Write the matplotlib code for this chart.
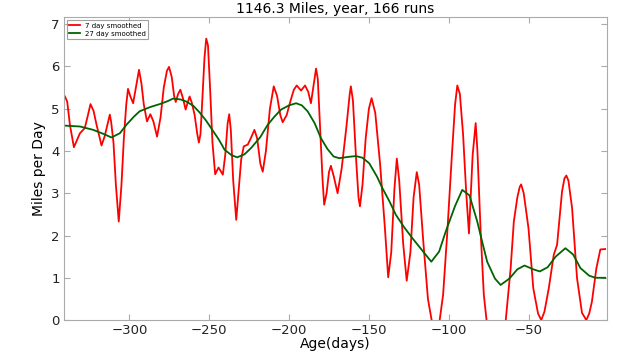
import matplotlib
matplotlib.use("Agg")
import matplotlib.pyplot as plt

title = "1146.3 Miles, year, 166 runs"
xlabel = "Age(days)"
ylabel = "Miles per Day"
label_7 = "7 day smoothed"
label_27 = "27 day smoothed"

days_7 = [-340.4, -339, -337.3, -334.8, -331, -328, -326, -324.4, -322.5, -320.6,
          -317.5, -315.5, -312.3, -311.5, -310, -308.5, -306.7, -305, -303.5, -302,
          -300.9, -299.5, -297.7, -296, -294, -292.5, -291, -289, -286.9, -285,
          -282.7, -280.5, -278.5, -276.5, -275.2, -273.5, -272, -271, -269.5, -268.1,
          -266.5, -264.8, -263.5, -262.3, -261, -259.2, -257.5, -256.5, -255.5, -254.5,
          -253, -251.9, -250.8, -249.5, -248, -246.3, -244.2, -241.5, -240, -238.5,
          -237.5, -236.5, -235, -233.1, -231.5, -230, -228.4, -225.9, -224, -221.7,
          -220, -218, -216.5, -214.5, -212, -209.6, -207.5, -205.5, -204, -201.5,
          -199, -197, -195.2, -192.5, -190, -188, -186.3, -184.5, -183.1, -182,
          -180.5, -179, -178, -176.5, -175, -173.8, -172, -169.6, -167, -164,
          -162, -161.3, -160, -158, -156.5, -155.6, -154, -152, -150, -148.3,
          -146, -143, -140, -137.9, -136, -134, -132.5, -131, -128.5, -126.3,
          -124, -122, -120, -118.5, -116, -113, -110, -108.5, -106, -103.5,
          -101, -98, -96, -94.6, -93, -91, -89, -87.3, -85, -83.1,
          -82, -80, -78, -76, -73, -70, -67, -64.5, -61.2, -59.2,
          -57, -55.5, -54.6, -53, -50, -47, -44, -42, -40, -37.3,
          -34.2, -32.1, -29, -27.5, -26.3, -25, -22.7, -19.6, -16.5, -13.8,
          -12, -10.3, -7.5, -5, -2]
miles_7 = [5.29, 5.17, 4.62, 4.09, 4.42, 4.54, 4.85, 5.11, 4.95, 4.62,
           4.13, 4.35, 4.86, 4.70, 4.20, 3.20, 2.33, 3.20, 4.30, 5.10,
           5.47, 5.30, 5.13, 5.50, 5.92, 5.60, 5.10, 4.70, 4.87, 4.70,
           4.34, 4.80, 5.50, 5.90, 5.99, 5.75, 5.30, 5.16, 5.35, 5.45,
           5.25, 4.98, 5.15, 5.29, 5.15, 4.86, 4.40, 4.20, 4.40, 5.10,
           6.20, 6.66, 6.50, 5.50, 4.20, 3.45, 3.61, 3.44, 3.90, 4.65,
           4.87, 4.50, 3.30, 2.37, 3.10, 3.80, 4.11, 4.15, 4.30, 4.50,
           4.30, 3.70, 3.51, 4.00, 5.00, 5.53, 5.30, 4.85, 4.68, 4.85,
           5.20, 5.45, 5.55, 5.43, 5.55, 5.40, 5.13, 5.60, 5.95, 5.70,
           4.50, 3.30, 2.73, 3.00, 3.50, 3.65, 3.40, 3.00, 3.60, 4.60,
           5.35, 5.53, 5.20, 3.80, 2.90, 2.69, 3.20, 4.30, 5.00, 5.25,
           4.90, 3.70, 2.20, 1.01, 1.60, 3.10, 3.82, 3.30, 1.80, 0.93,
           1.60, 2.90, 3.50, 3.20, 1.90, 0.50, -0.15, -0.20, -0.10, 0.60,
           2.00, 3.90, 5.10, 5.55, 5.35, 4.40, 3.00, 2.05, 3.90, 4.66,
           4.00, 2.10, 0.60, -0.10, -0.50, -0.60, -0.50, -0.10, 1.22, 2.33,
           2.90, 3.15, 3.21, 3.00, 2.17, 0.75, 0.15, 0.00, 0.20, 0.75,
           1.54, 1.78, 3.04, 3.35, 3.42, 3.30, 2.65, 0.99, 0.17, 0.00,
           0.15, 0.43, 1.22, 1.67, 1.68]

days_27 = [-340.4, -331, -322.7, -316, -311.3, -306, -301.9, -297, -293.6, -287,
           -281, -276, -272.7, -268, -264.4, -260, -256, -252, -248.8, -244,
           -240.4, -236, -232.5, -228, -223.8, -218, -213.4, -209, -205, -200,
           -195.6, -192, -188.4, -184, -180, -176, -172.1, -168.6, -163, -158.1,
           -154, -149.8, -145, -141.5, -137, -133.1, -128, -122.8, -116, -110.9,
           -106, -101.9, -96, -91.5, -87, -82.1, -79, -75.9, -71, -67.5,
           -62, -57, -52.5, -47, -42.9, -38, -33, -26.9, -22, -17.5,
           -12, -8.1, -2]
miles_27 = [4.60, 4.58, 4.50, 4.40, 4.32, 4.42, 4.62, 4.82, 4.94, 5.04,
            5.11, 5.18, 5.24, 5.22, 5.17, 5.07, 4.91, 4.72, 4.54, 4.27,
            4.03, 3.90, 3.85, 3.92, 4.07, 4.33, 4.62, 4.82, 4.98, 5.08,
            5.13, 5.08, 4.94, 4.66, 4.30, 4.05, 3.87, 3.83, 3.86, 3.88,
            3.84, 3.71, 3.40, 3.12, 2.80, 2.49, 2.20, 1.94, 1.62, 1.38,
            1.62, 2.09, 2.70, 3.08, 2.95, 2.33, 1.85, 1.38, 0.98, 0.83,
            0.98, 1.20, 1.29, 1.20, 1.15, 1.25, 1.50, 1.70, 1.55, 1.23,
            1.05, 1.00, 1.00]

fig = plt.figure(figsize=(6.4, 3.56), dpi=100)
ax = fig.add_axes([0.1, 0.101, 0.848, 0.850])
ax.plot(days_7, miles_7, color="red", lw=1.3, label=label_7)
ax.plot(days_27, miles_27, color="#006400", lw=1.3, label=label_27)
ax.set_xlim(-341, -1)
ax.set_ylim(0, 7.16)
ax.set_xticks([-300, -250, -200, -150, -100, -50])
ax.set_xticklabels(["\u2212300", "\u2212250", "\u2212200", "\u2212150", "\u2212100", "\u221250"])
ax.set_yticks(range(8))
for s in ax.spines.values():
    s.set_color("#aaaaaa")
ax.tick_params(direction="in", length=4, color="#aaaaaa", labelsize=9.5,
               top=True, right=True, labelcolor="#222222", pad=3)
ax.set_title(title, fontsize=10, pad=3)
ax.set_xlabel(xlabel, fontsize=10, labelpad=0)
ax.set_ylabel(ylabel, fontsize=10, labelpad=4)
leg = ax.legend(loc="upper left", fontsize=5, frameon=True, fancybox=False,
                handlelength=1.5, handletextpad=0.8, borderpad=0.35,
                labelspacing=0.3, borderaxespad=0.4)
leg.get_frame().set_edgecolor("#888888")
leg.get_frame().set_linewidth(0.8)
fig.savefig("out.png", dpi=100)
